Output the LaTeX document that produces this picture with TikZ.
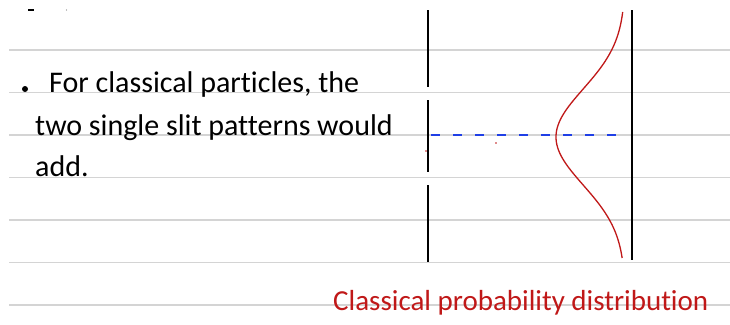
\documentclass[tikz,border=0pt]{standalone}
\usepackage{fontspec}
\setmainfont{Carlito}[Ligatures=NoCommon]
\definecolor{rulec}{HTML}{D4D4D4}
\definecolor{inkred}{HTML}{C01818}
\definecolor{inkblue}{HTML}{1F3FE6}
\tikzset{
  ruled/.style={rulec, line width=1.6pt},
  wall/.style={black, line width=2.6pt},
  note/.style={anchor=base west, inner sep=0pt, font=\fontsize{30}{35}\selectfont},
}

\begin{document}
\begin{tikzpicture}[x=1pt, y=-1pt]
  \useasboundingbox[fill=white] (0,0) rectangle (730,324);
  % lined paper
  \foreach \y in {50,92.5,135,177.5,220,262.5,305}
    \draw[ruled] (9,\y) -- (730,\y);
  % stray marks
  \fill (28,9.2) rectangle (34,10.6);
  \fill[gray] (66.5,10) circle (0.6pt);
  % notes
  \fill (25,89) circle (3pt);
  \node[note] (line1) at (49,92) {For classical particles, the};
  \node[note] (line2) at (35,135) {two single slit patterns would};
  \node[note] (line3) at (35,176) {add.};
  % double slit and screen
  \coordinate (slitA) at (428,10);
  \draw[wall] (slitA) -- (428,87);
  \draw[wall] (428,100) -- (428,172);
  \draw[wall] (428,185) -- (428,262);
  \coordinate (screenT) at (632,10);
  \coordinate (screenB) at (632,260);
  \draw[wall] (screenT) -- (screenB);
  % axis to screen
  \draw[inkblue, line width=1.5pt, dash pattern=on 9pt off 13pt] (431,135) -- (624,135);
  % classical distribution
  \draw[inkred, line width=1.3pt, smooth]
    plot[domain=12:258, samples=90] ({625-69*exp(-0.5*((\x-137)/48)^2)}, \x);
  \fill[inkred] (426,151) circle (0.9pt);
  \fill[inkred] (496,143) circle (0.9pt);
  \node[note, text=inkred, font=\fontsize{29}{34}\selectfont] (caption) at (333,310) {Classical probability distribution};
\end{tikzpicture}
\end{document}
